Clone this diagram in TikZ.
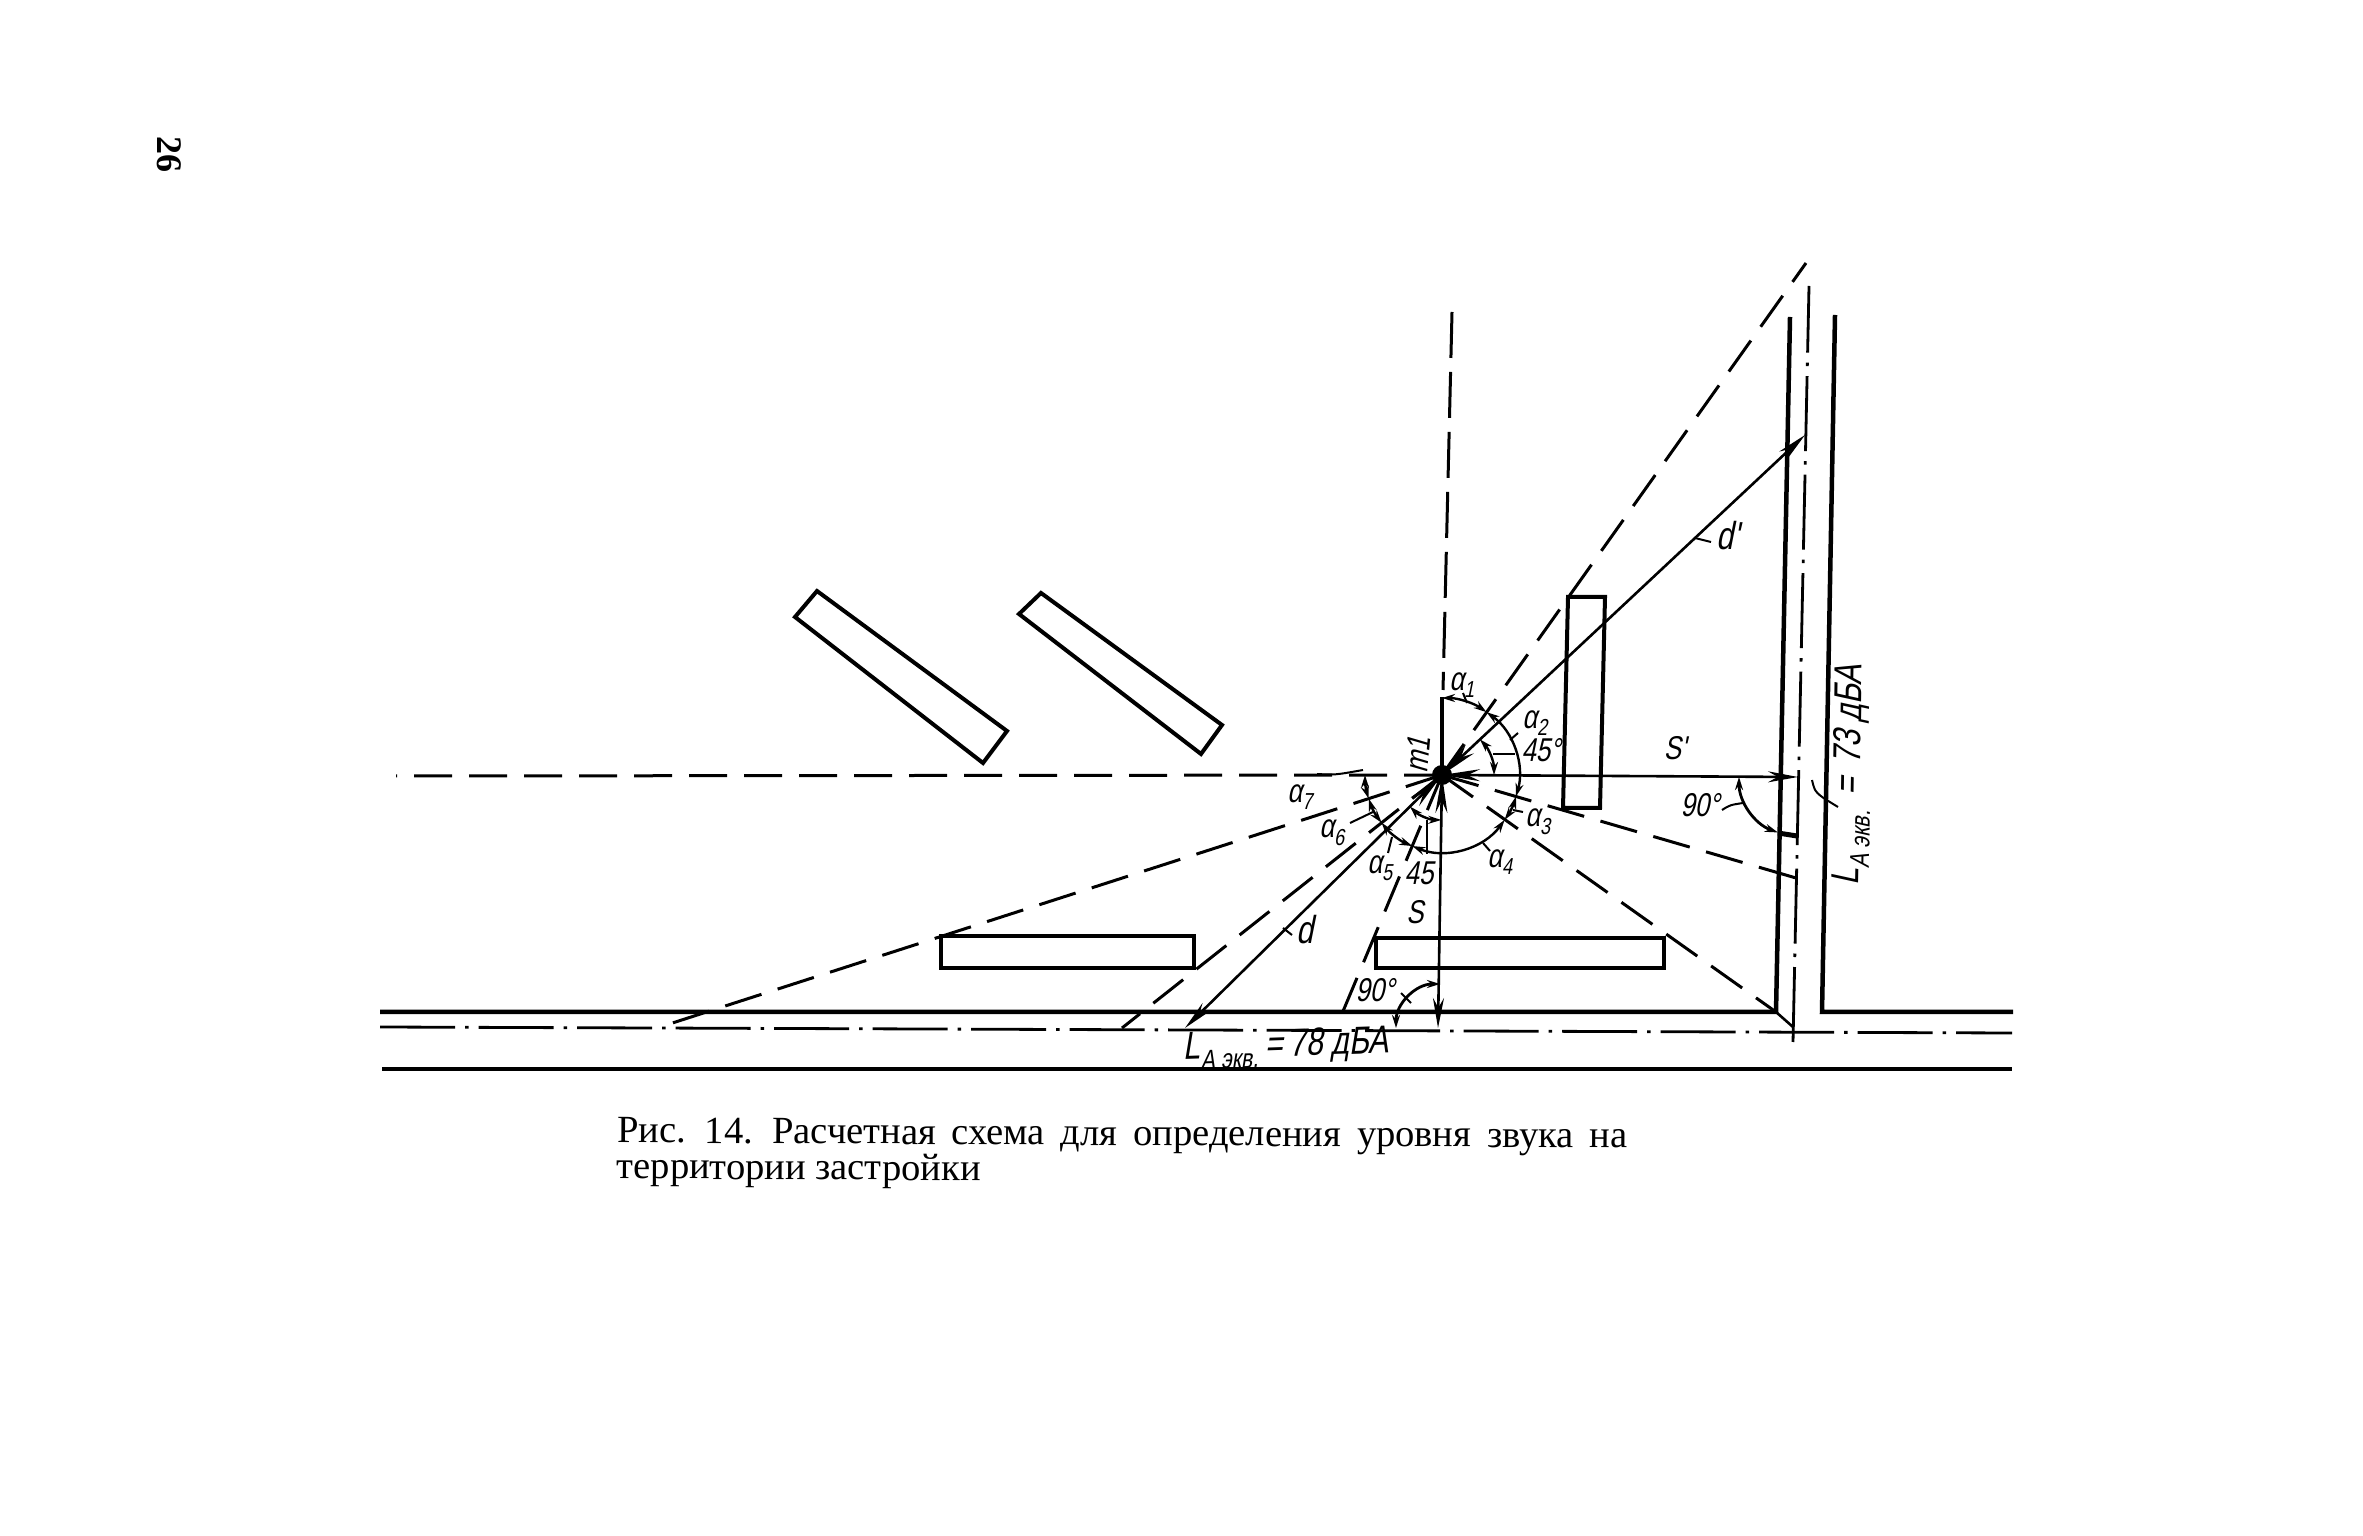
\documentclass[tikz,border=0pt]{standalone}
\usepackage{fontspec}
\usepackage{xcolor}
\setmainfont{Liberation Serif}
\newfontfamily\draftfont[FakeStretch=0.78,FakeSlant=0.2]{Liberation Sans}
\usetikzlibrary{arrows.meta,calc}

\begin{document}
\begin{tikzpicture}[
        x=1pt,y=1pt,
        >=Stealth,
        wall/.style={line width=4.5pt,line join=miter},
        block/.style={line width=4pt,line join=miter},
        axisline/.style={line width=2.8pt,dash pattern=on 75pt off 10pt on 3.5pt off 10pt},
        rayline/.style={line width=3pt,dash pattern=on 38pt off 17pt},
        dimline/.style={line width=2.6pt},
        bigtips/.style={{Stealth[length=38pt,width=12pt]}-{Stealth[length=30pt,width=11pt]}},
        anglearc/.style={line width=2.4pt,{Stealth[length=13pt,width=8pt]}-{Stealth[length=13pt,width=8pt]}},
        leader/.style={line width=2pt},
        lbl/.style={font=\draftfont\fontsize{33}{33}\selectfont,inner sep=0pt},
        biglbl/.style={font=\draftfont\fontsize{39}{39}\selectfont,inner sep=0pt},
        caption/.style={font=\fontsize{38.5}{36}\selectfont,inner sep=0pt,align=left,anchor=north west}
    ]
        \useasboundingbox (0,0) rectangle (2363,1535);

        \coordinate (m) at (1442,760);
        \coordinate (upT) at (1806,1272);
        \coordinate (dPr) at (1805,1100);
        \coordinate (sPr) at (1798,758);
        \coordinate (rgt) at (1796,657);
        \coordinate (crn) at (1776,523);
        \coordinate (sE) at (1438,507);
        \coordinate (dThree) at (1336,507);
        \coordinate (dE) at (1185,507);
        \coordinate (dTwo) at (1122,507);
        \coordinate (dOne) at (660,508);
        \coordinate (lft) at (396,759);
        \coordinate (vTop) at (1452,1223);
        \coordinate (vEnd) at (1443,845);

        \node[font=\bfseries\fontsize{36}{36}\selectfont,inner sep=0pt,rotate=-90] (pageno) at (169,1380) {26};

        % roads
        \draw[wall] (380,523) -- (crn) -- (1790,1218);
        \draw[wall] (2013,523) -- (1822,523) -- (1835,1220);
        \draw[wall] (382,466) -- (2012,466);
        \draw[axisline] (380,508) -- (2012,502);
        \draw[axisline] (1793,493) -- (1809,1249);
        \draw[dimline] (crn) -- (1793,508);

        % buildings
        \draw[block] (1568,938) -- (1605,938) -- (1600,727) -- (1563,727) -- cycle;
        \draw[block] (941,599) rectangle (1194,567);
        \draw[block] (1376,597) rectangle (1664,567);
        \draw[block] (817,944) -- (1007,804) -- (983,772) -- (795,918) -- cycle;
        \draw[block] (1041,942) -- (1222,810) -- (1201,781) -- (1019,921) -- cycle;

        % rays
        \foreach \e in {upT,rgt,crn,dThree,dTwo,dOne,lft}
            \draw[rayline] (m) -- (\e);
        \draw[rayline,dash pattern=on 46pt off 14pt] (vTop) -- (vEnd);
        \draw[line width=3.2pt] (m) -- (1442,838);

        \draw[dimline,bigtips] (m) -- (dPr);
        \draw[dimline,bigtips] (m) -- (sPr);
        \draw[dimline,bigtips] (m) -- (sE);
        \draw[dimline,bigtips] (m) -- (dE);
        \fill (m) circle (10pt);

        % angles
        \foreach \a/\b in {90/54.7,54.7/-16.2,-16.2/-35.7,-35.7/-112.7,-112.7/-141.7,-141.7/-162.1,-162.1/-180}
            \draw[anglearc] (m) ++(\a:77pt) arc[start angle=\a,end angle=\b,radius=77pt];
        \draw[anglearc] (m) ++(43.2:52pt) arc[start angle=43.2,end angle=0,radius=52pt];
        \draw[anglearc] (m) ++(-90.9:45pt) arc[start angle=-90.9,end angle=-135.4,radius=45pt];
        \draw[anglearc,line width=2.8pt] (sPr) ++(180:59pt) arc[start angle=180,end angle=250,radius=59pt];
        \draw[anglearc,line width=2.8pt] (sE) ++(180:42pt) arc[start angle=180,end angle=90,radius=44pt];
        \draw[line width=5pt] (1778,702) -- (1797,699);

        % leaders
        \draw[leader] (1463,842) -- (1467,832);
        \draw[leader] (1510,795) -- (1518,802);
        \draw[leader] (1493,781) -- (1515,781);
        \draw[leader] (1513,725) -- (1523,723);
        \draw[leader] (1483,692) -- (1490,684);
        \draw[leader] (1392,698) -- (1388,682);
        \draw[leader] (1427,715) -- (1427,681);
        \draw[leader] (1350,712) -- (1373,723);
        \draw[leader] (1317,761) .. controls (1335,760) .. (1363,765);
        \draw[leader] (1283,607) -- (1292,600);
        \draw[leader] (1695,997) -- (1711,993);
        \draw[leader] (1722,725) .. controls (1730,730) .. (1743,732);
        \draw[leader] (1401,542) -- (1411,532);
        \draw[leader] (1812,755) .. controls (1815,742) .. (1838,728);

        % labels
        \node[lbl] (aOne) at (1462,850) {α\textsubscript{1}};
        \node[lbl] (aTwo) at (1535,812) {α\textsubscript{2}};
        \node[lbl] (aThree) at (1538,713) {α\textsubscript{3}};
        \node[lbl] (aFour) at (1500,673) {α\textsubscript{4}};
        \node[lbl] (aFive) at (1380,667) {α\textsubscript{5}};
        \node[lbl] (aSix) at (1332,702) {α\textsubscript{6}};
        \node[lbl] (aSeven) at (1300,738) {α\textsubscript{7}};
        \node[lbl] (degA) at (1541,785) {45°};
        \node[lbl] (degB) at (1419,662) {45};
        \node[lbl] (degC) at (1700,730) {90°};
        \node[lbl] (degD) at (1375,545) {90°};
        \node[lbl] (labS) at (1415,623) {S};
        \node[lbl] (labSp) at (1675,787) {S'};
        \node[biglbl] (labD) at (1305,605) {d};
        \node[biglbl] (labDp) at (1728,999) {d'};
        \node[lbl,rotate=85] (labM) at (1418,780) {m1};
        \node[biglbl,rotate=2] (levelA) at (1286,487) {L\textsubscript{A экв.}\,=\,78 дБА};
        \node[biglbl,rotate=89] (levelB) at (1852,760) {L\textsubscript{A экв.} \,=\,\,73 дБА};

        \node[caption,rotate=-0.3] (cap) at (617,418) {\spaceskip=16pt\relax Рис. 14. Расчетная схема для определения уровня звука на\\территории застройки};
    \end{tikzpicture}
\end{document}
